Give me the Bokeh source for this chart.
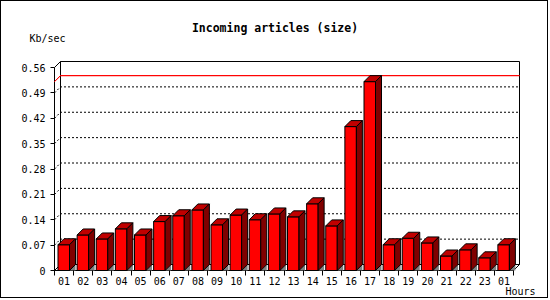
from bokeh.plotting import figure
from bokeh.models import FixedTicker, CustomJSTickFormatter, Label, Range1d
from bokeh.embed import file_html
from bokeh.resources import INLINE

# ---- data ----
hours = ["01", "02", "03", "04", "05", "06", "07", "08", "09", "10", "11", "12",
         "13", "14", "15", "16", "17", "18", "19", "20", "21", "22", "23", "01"]
kb_sec = [0.071, 0.098, 0.087, 0.115, 0.098, 0.135, 0.151, 0.167, 0.126, 0.153, 0.140, 0.156,
          0.148, 0.184, 0.123, 0.397, 0.521, 0.071, 0.089, 0.076, 0.040, 0.057, 0.035, 0.071]
y_ticks = [0, 0.07, 0.14, 0.21, 0.28, 0.35, 0.42, 0.49, 0.56]
y_tick_labels = ["0", "0.07", "0.14", "0.21", "0.28", "0.35", "0.42", "0.49", "0.56"]
title_text = "Incoming articles (size)"
y_title = "Kb/sec"
x_title = "Hours"

CW = 19.125
PPU = 362.5
DX = 6.0 / CW
DY = 6.0 / PPU
N = float(len(hours))
ytop = y_ticks[-1]
W, H = 548, 298
X0, Y0 = 53, 269

FONT = "DejaVu Sans Mono"

p = figure(width=W, height=H,
           x_range=Range1d(-X0 / CW, (W - X0) / CW),
           y_range=Range1d(-(H - Y0) / PPU, Y0 / PPU),
           output_backend="svg", toolbar_location=None,
           min_border_left=0, min_border_right=0, min_border_top=0, min_border_bottom=0)
p.styles = {"border": "1px solid black"}
p.outline_line_color = None
p.xgrid.visible = False
p.ygrid.visible = False

p.yaxis.fixed_location = 0
p.yaxis.ticker = FixedTicker(ticks=y_ticks, minor_ticks=[])
p.yaxis.formatter = CustomJSTickFormatter(args=dict(labels=y_tick_labels), code="return labels[index];")
p.yaxis.axis_line_color = None
p.yaxis.major_tick_out = 4
p.yaxis.major_tick_in = 0
p.yaxis.major_tick_line_color = "black"
p.yaxis.minor_tick_line_color = None
p.yaxis.major_label_standoff = 5
p.yaxis.major_label_text_font = FONT
p.yaxis.major_label_text_font_size = "10px"
p.yaxis.major_label_text_color = "black"

centers = [i + 0.5 for i in range(len(hours))]
bounds = [float(i) for i in range(len(hours) + 1)]
p.xaxis.fixed_location = 0
p.xaxis.ticker = FixedTicker(ticks=centers, minor_ticks=bounds)
p.xaxis.formatter = CustomJSTickFormatter(args=dict(labels=hours), code="return labels[index];")
p.xaxis.axis_line_color = None
p.xaxis.major_tick_out = 0
p.xaxis.major_tick_in = 0
p.xaxis.minor_tick_out = 5
p.xaxis.minor_tick_in = 0
p.xaxis.minor_tick_line_color = "black"
p.xaxis.major_label_standoff = 1
p.xaxis.major_label_text_font = FONT
p.xaxis.major_label_text_font_size = "10px"
p.xaxis.major_label_text_color = "black"

# 3D frame as white-filled walls with black outlines (back wall, left wall, floor)
wall_x = [
    [DX, DX, N + DX, N + DX],          # back wall
    [0.0, 0.0, DX, DX],                # left wall
    [0.0, N, N + DX, DX],              # floor
]
wall_y = [
    [DY, ytop + DY, ytop + DY, DY],
    [0.0, ytop, ytop + DY, DY],
    [0.0, 0.0, DY, DY],
]
p.patches(wall_x, wall_y, fill_color="white", line_color="black", line_width=1)

# max line
vmax = max(kb_sec)
p.patches([[0.0, DX, N + DX, N + DX, DX, 0.0]],
          [[vmax, vmax + DY, vmax + DY, vmax + DY, vmax + DY, vmax]],
          fill_color=None, line_color="red", line_width=1)

# back-plane dotted grid lines (with diagonal from front axis)
gx, gy = [], []
for t in y_ticks[1:-1]:
    gx.append([0.0, DX, N + DX])
    gy.append([t, t + DY, t + DY])
p.multi_line(gx, gy, line_color="black", line_width=1, line_dash="2 2")

# bars
L_OFF = 3.5 / CW
BW = 11.5 / CW
sh_x, sh_y, fr_x, fr_y, tp_x, tp_y, sd_x, sd_y = [], [], [], [], [], [], [], []
for i, v in enumerate(kb_sec):
    xl = i + L_OFF
    xr = xl + BW
    sh_x.append([xr, xr + DX, xr + DX])
    sh_y.append([0.0, DY, 0.0])
    fr_x.append([xl, xr, xr, xl])
    fr_y.append([0.0, 0.0, v, v])
    tp_x.append([xl, xr, xr + DX, xl + DX])
    tp_y.append([v, v, v + DY, v + DY])
    sd_x.append([xr, xr + DX, xr + DX, xr])
    sd_y.append([0.0, DY, v + DY, v])

p.patches(sh_x, sh_y, fill_color="#808080", line_color=None)
p.patches(fr_x, fr_y, fill_color="#FF0000", line_color="black", line_width=1)
p.patches(tp_x, tp_y, fill_color="#C00000", line_color="black", line_width=1)
p.patches(sd_x, sd_y, fill_color="#800000", line_color="black", line_width=1)

def sx(page_x):
    return page_x - 1

def sy(page_y):
    return H - (page_y - 1)

p.add_layout(Label(x=sx(274.5), y=sy(27), x_units="screen", y_units="screen", text=title_text,
                   text_align="center", text_baseline="middle", text_font=FONT,
                   text_font_style="bold", text_font_size="11.5px", text_color="black"))
p.add_layout(Label(x=sx(29), y=sy(37.5), x_units="screen", y_units="screen", text=y_title,
                   text_align="left", text_baseline="middle", text_font=FONT,
                   text_font_size="10px", text_color="black"))
p.add_layout(Label(x=sx(505), y=sy(290.5), x_units="screen", y_units="screen", text=x_title,
                   text_align="left", text_baseline="middle", text_font=FONT,
                   text_font_size="10px", text_color="black"))

open("out.html", "w").write(file_html(p, INLINE))
